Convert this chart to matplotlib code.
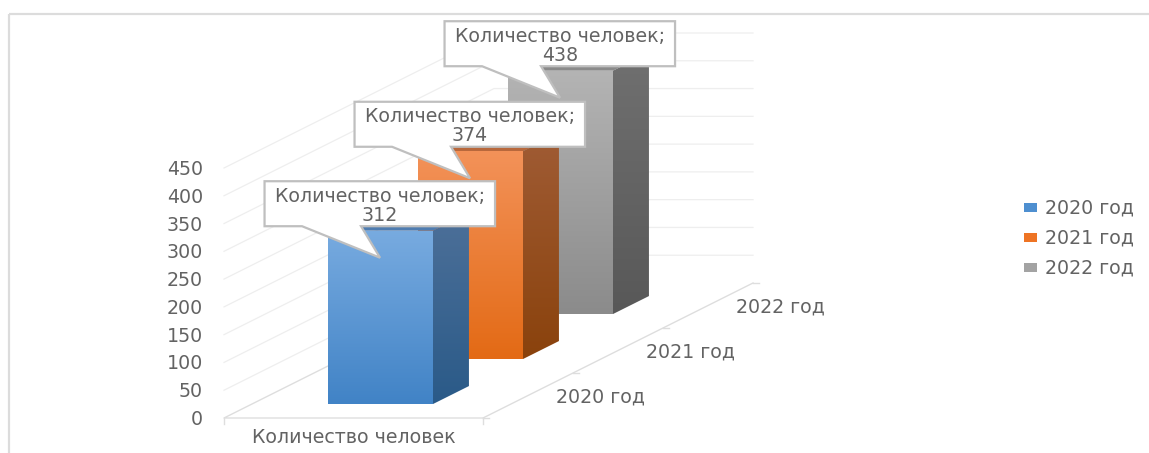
"""
Stacked-in-depth 3D column chart, drawn on a pixel-sized 2D axes with a small oblique projection.
"""

import numpy as np
import matplotlib
matplotlib.use("Agg")
import matplotlib.pyplot as plt
from matplotlib.patches import Polygon, Rectangle

SERIES_NAMES = ["2020 год", "2021 год", "2022 год"]
SERIES_VALUES = [312, 374, 438]
CATEGORY = "Количество человек"
VALUE_TICKS = [0, 50, 100, 150, 200, 250, 300, 350, 400, 450]

# colours: front top, front bottom, side top, side bottom, top face
BAR_COLORS = [
    ("#78abe0", "#4183c6", "#4d7099", "#2a5a88", "#4f7cb0"),
    ("#f39259", "#e36a15", "#a05c35", "#8a420c", "#b8683c"),
    ("#b4b4b4", "#8b8b8b", "#707070", "#585858", "#8a8a8a"),
]
LEGEND_COLORS = ["#4e8fd0", "#ee7424", "#a3a3a3"]

TEXT_COLOR = "#636363"
GRID_COLOR = "#eeeeee"
AXIS_COLOR = "#dedede"
BOX_EDGE = "#bfbfbf"
FONT_SIZE = 13.7

W, H = 1149, 453
ORIGIN_X, ORIGIN_Y = 224, 418
FRONT_WIDTH = 259
DEPTH_DX, DEPTH_DY = 90, 45
PX_PER_UNIT = 250 / 450
BAR_X0, BAR_X1 = 0.294, 0.699
BAR_D0, BAR_D1 = 0.31, 0.71


def project(x, depth, value):
    px = ORIGIN_X + FRONT_WIDTH * x + DEPTH_DX * depth
    py = ORIGIN_Y - DEPTH_DY * depth - PX_PER_UNIT * value
    return px, py


def gradient_face(ax, pts, top_color, bottom_color, zorder):
    poly = Polygon(pts, closed=True, facecolor="none", edgecolor="none", zorder=zorder)
    ax.add_patch(poly)
    xs = [p[0] for p in pts]
    ys = [p[1] for p in pts]
    c0 = np.array(matplotlib.colors.to_rgb(top_color))
    c1 = np.array(matplotlib.colors.to_rgb(bottom_color))
    t = np.linspace(0, 1, 256)[:, None]
    img = (c0 * (1 - t) + c1 * t)[:, None, :]
    im = ax.imshow(img, extent=(min(xs), max(xs), max(ys), min(ys)), aspect="auto",
                   zorder=zorder, interpolation="bilinear")
    im.set_clip_path(poly)


def draw_bar(ax, i, value, zorder):
    ft, fb, st, sb, tp = BAR_COLORS[i]
    d0, d1 = i + BAR_D0, i + BAR_D1
    front = [project(BAR_X0, d0, value), project(BAR_X1, d0, value),
             project(BAR_X1, d0, 0), project(BAR_X0, d0, 0)]
    side = [project(BAR_X1, d0, value), project(BAR_X1, d1, value),
            project(BAR_X1, d1, 0), project(BAR_X1, d0, 0)]
    top = [project(BAR_X0, d0, value), project(BAR_X1, d0, value),
           project(BAR_X1, d1, value), project(BAR_X0, d1, value)]
    ax.add_patch(Polygon(top, closed=True, facecolor=tp, edgecolor="none", zorder=zorder))
    gradient_face(ax, side, st, sb, zorder + 0.1)
    gradient_face(ax, front, ft, fb, zorder + 0.2)


def draw_callout(ax, i, value, zorder):
    ax_x, ax_y = project(BAR_X0, i + BAR_D0, value)
    left, right = ax_x - 63.5, ax_x + 167
    top, bottom = ax_y - 49.5, ax_y - 4.5
    pts = [(left, top), (right, top), (right, bottom), (ax_x + 33, bottom),
           (ax_x + 52, ax_y + 27), (ax_x - 26, bottom), (left, bottom)]
    ax.add_patch(Polygon(pts, closed=True, facecolor="white", edgecolor=BOX_EDGE,
                         linewidth=1.6, joinstyle="miter", zorder=zorder))
    ax.text((left + right) / 2, top + 24.5, f"{CATEGORY};\n{value}", ha="center", va="center",
            fontsize=FONT_SIZE, color=TEXT_COLOR, linespacing=0.98, zorder=zorder + 0.1)


def main():
    fig = plt.figure(figsize=(W / 100, H / 100), dpi=100, facecolor="white")
    ax = fig.add_axes([0, 0, 1, 1])
    ax.set_xlim(0, W)
    ax.set_ylim(H, 0)
    ax.axis("off")

    # outer chart frame, runs off the canvas on the right and at the bottom
    ax.plot([8.5, 8.5], [H + 10, 14], color="#dcdcdc", lw=1.6, zorder=1, solid_capstyle="butt")
    ax.plot([8.5, W + 10], [14, 14], color="#dcdcdc", lw=1.6, zorder=1, solid_capstyle="butt")

    n_cat = len(SERIES_NAMES)
    for v in VALUE_TICKS:
        x0, y0 = project(0, 0, v)
        x1, y1 = project(0, n_cat, v)
        x2, y2 = project(1, n_cat, v)
        if v > 0:
            ax.plot([x0, x1, x2], [y0, y1, y2], color=GRID_COLOR, lw=0.9, zorder=2)
        ax.text(x0 - 21, y0 + 1.5, str(v), ha="right", va="center", fontsize=FONT_SIZE, color=TEXT_COLOR)

    # floor
    floor_x = [project(0, n_cat, 0)[0], project(0, 0, 0)[0], project(1, 0, 0)[0], project(1, n_cat, 0)[0]]
    floor_y = [project(0, n_cat, 0)[1], project(0, 0, 0)[1], project(1, 0, 0)[1], project(1, n_cat, 0)[1]]
    ax.plot(floor_x, floor_y, color=AXIS_COLOR, lw=1.0, zorder=2)
    for x in (0, 1):
        px, py = project(x, 0, 0)
        ax.plot([px, px], [py, py + 6], color=AXIS_COLOR, lw=1.0, zorder=2)
        if x == 1:
            ax.plot([px, px + 6], [py, py], color=AXIS_COLOR, lw=1.0, zorder=2)
    for d in range(1, n_cat + 1):
        px, py = project(1, d, 0)
        ax.plot([px, px + 6], [py, py], color=AXIS_COLOR, lw=1.0, zorder=2)

    # depth and category labels
    for i, name in enumerate(SERIES_NAMES):
        px, py = project(1, i + 0.5, 0)
        ax.text(px + 72, py + 1.5, name, ha="center", va="center", fontsize=FONT_SIZE, color=TEXT_COLOR)
    px, py = project(0.5, 0, 0)
    ax.text(px, py + 19.5, CATEGORY, ha="center", va="center", fontsize=FONT_SIZE, color=TEXT_COLOR)

    # back to front
    for i in reversed(range(n_cat)):
        draw_bar(ax, i, SERIES_VALUES[i], 3 + (n_cat - i))
    for i in reversed(range(n_cat)):
        draw_callout(ax, i, SERIES_VALUES[i], 10 + (n_cat - i))

    # legend
    for i, name in enumerate(SERIES_NAMES):
        y = 207 + 30 * i
        ax.add_patch(Rectangle((1024, y - 4.5), 13, 9, facecolor=LEGEND_COLORS[i], edgecolor="none", zorder=5))
        ax.text(1045, y + 0.5, name, ha="left", va="center", fontsize=FONT_SIZE, color=TEXT_COLOR)

    ax.set_xlim(0, W)
    ax.set_ylim(H, 0)
    fig.savefig("out.png", dpi=100)


if __name__ == "__main__":
    main()
